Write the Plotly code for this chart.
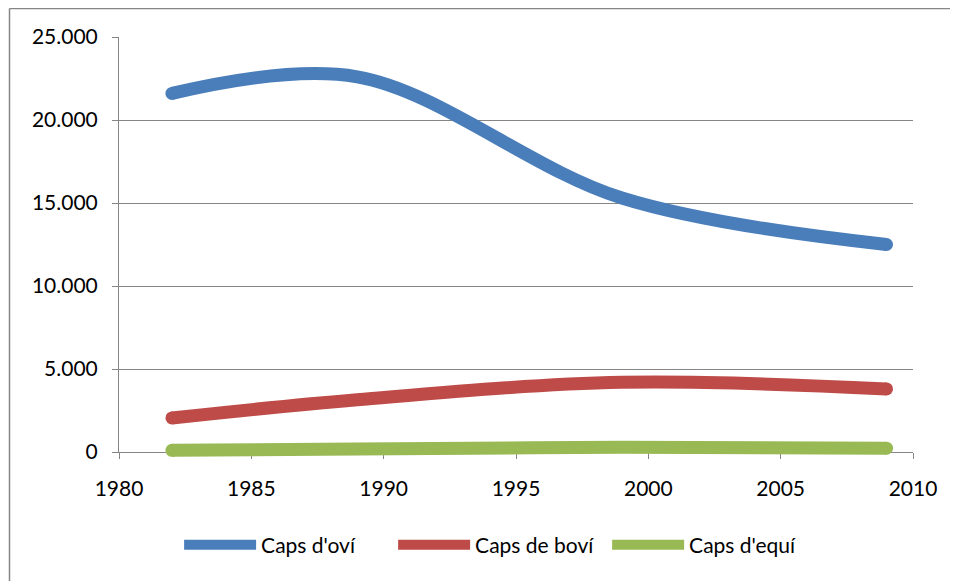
import plotly.graph_objects as go

years = [1982, 1989, 1999, 2009]
ovi = [21600, 22600, 15300, 12500]
bovi = [2050, 3150, 4200, 3800]
equi = [100, 180, 280, 230]

names = ["Caps d'oví", "Caps de boví", "Caps d'equí"]
colors = ["#4A7EBB", "#BE4B48", "#98B954"]
series = [ovi, bovi, equi]

# page body offset of 8px is accounted for in margins
W, H = 958, 581
EXT = 12  # extra px below the x axis so thick lines are not clipped
L, R, T, B = 111, 53, 29, 137 - EXT
pw, ph = W - L - R, H - T - B
YMAX = 25000
y2_min = -EXT * YMAX / (ph - EXT)

LW = 13
fig = go.Figure()
# invisible trace so the main x/y subplot (axes, grid) is created
fig.add_trace(go.Scatter(x=[None], y=[None], xaxis="x", yaxis="y", mode="lines",
                         showlegend=False, hoverinfo="skip"))
for n, c, s in zip(names, colors, series):
    fig.add_trace(go.Scatter(x=years, y=s, name=n, mode="lines", xaxis="x", yaxis="y2",
                             line=dict(color=c, width=LW, shape="spline", smoothing=1.0)))
    # round line caps at both ends
    fig.add_trace(go.Scatter(x=[years[0], years[-1]], y=[s[0], s[-1]], mode="markers",
                             xaxis="x", yaxis="y2",
                             marker=dict(color=c, size=LW, line=dict(width=0)),
                             showlegend=False, hoverinfo="skip", cliponaxis=False))

fig.update_layout(
    width=W, height=H,
    margin=dict(l=L, r=R, t=T, b=B),
    paper_bgcolor="white", plot_bgcolor="rgba(0,0,0,0)",
    font=dict(family="Lato, 'Open Sans', sans-serif", size=21, color="black"),
    showlegend=True,
    legend=dict(orientation="h", x=0.48, xanchor="center", y=-0.19, yanchor="middle",
                font=dict(size=21), itemwidth=72, entrywidth=127, traceorder="normal"),
    separators=",.",
    xaxis=dict(range=[1980, 2010], dtick=5, tick0=1980, showgrid=False,
               showline=True, linecolor="#868686", linewidth=1, anchor="y",
               ticks="outside", ticklen=6, tickcolor="#868686", zeroline=False,
               tickfont=dict(size=21), ticklabelstandoff=12),
    yaxis=dict(range=[0, YMAX], dtick=5000, showgrid=True, gridcolor="#868686", gridwidth=1,
               showline=True, linecolor="#868686", linewidth=1, domain=[EXT / ph, 1],
               anchor="x",
               ticks="outside", ticklen=6, tickcolor="#868686", zeroline=False,
               tickformat=",d", tickfont=dict(size=21), ticklabelstandoff=10),
    yaxis2=dict(range=[y2_min, YMAX], domain=[0, 1], anchor="x", visible=False,
                showgrid=False, zeroline=False),
)

# outer chart border (top and left visible)
x_left = (1.5 - L) / pw
y_top = 1 + (T - 0.5) / ph
fig.add_shape(type="line", xref="paper", yref="paper", x0=x_left, x1=(W - L + 5) / pw,
              y0=y_top, y1=y_top, line=dict(color="#868686", width=1.5))
fig.add_shape(type="line", xref="paper", yref="paper", x0=x_left, x1=x_left,
              y0=y_top, y1=-(B + 5) / ph, line=dict(color="#868686", width=1.5))

fig.write_html("out.html")
